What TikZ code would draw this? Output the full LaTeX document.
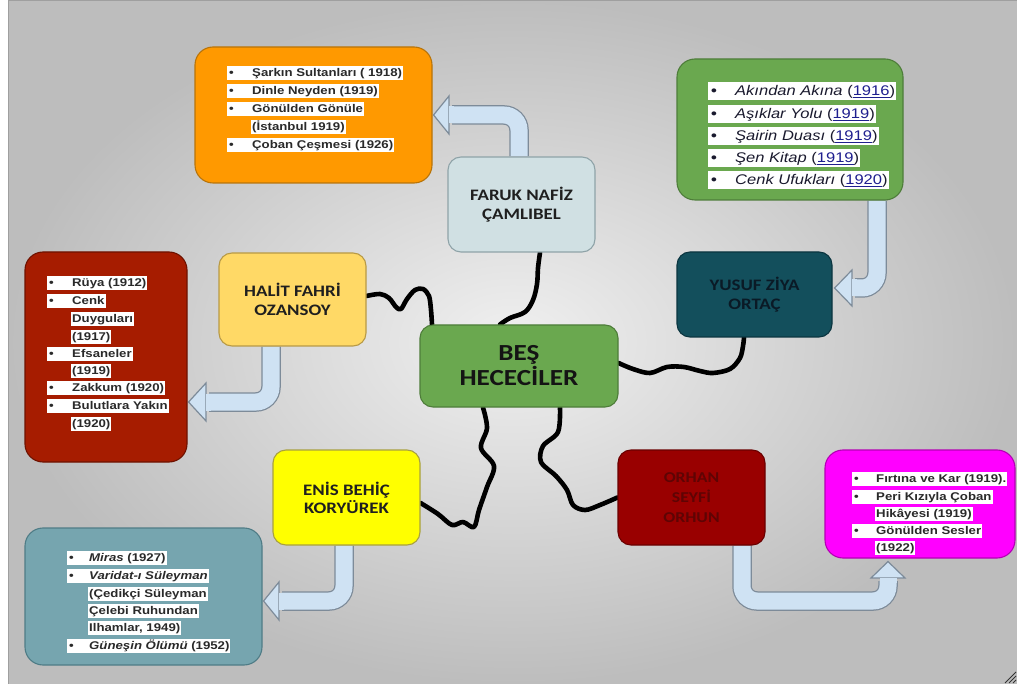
\documentclass[tikz,border=0pt]{standalone}
\usepackage{fontspec}
\setmainfont{Liberation Sans}
\newfontfamily\lstfont[FakeStretch=1.18]{Liberation Sans}
\newfontfamily\lblfont[FakeStretch=1.18]{Carlito}
\usetikzlibrary{calc}
\pgfdeclarelayer{back}
\pgfdeclarelayer{bg}
\pgfsetlayers{back,bg,main}
\definecolor{orangeF}{HTML}{FF9900}\definecolor{orangeD}{HTML}{B8740A}
\definecolor{greenF}{HTML}{6AA84F}\definecolor{greenD}{HTML}{4E7D3A}
\definecolor{redF}{HTML}{A61C00}\definecolor{redD}{HTML}{6E1200}
\definecolor{tealF}{HTML}{76A5AF}\definecolor{tealD}{HTML}{4F7C86}
\definecolor{magF}{HTML}{FF00FF}\definecolor{magD}{HTML}{B400B4}
\definecolor{farukF}{HTML}{D0E0E3}\definecolor{farukD}{HTML}{8FA3A8}
\definecolor{halitF}{HTML}{FFD966}\definecolor{halitD}{HTML}{B89A46}
\definecolor{yusufF}{HTML}{134F5C}\definecolor{yusufD}{HTML}{0B3540}\definecolor{yusufT}{HTML}{0A1A26}
\definecolor{enisF}{HTML}{FFFF00}\definecolor{enisD}{HTML}{A8A040}
\definecolor{orhanF}{HTML}{990000}\definecolor{orhanD}{HTML}{6A0000}\definecolor{orhanT}{HTML}{5E0404}
\definecolor{arrowF}{HTML}{CFE2F3}\definecolor{arrowD}{HTML}{7D8B99}
\definecolor{txtgray}{HTML}{2A2A2A}
\definecolor{greentxt}{HTML}{1A1A2E}
\definecolor{yearblue}{HTML}{1F1F8F}
\definecolor{bgin}{HTML}{F0F0F0}\definecolor{bgout}{HTML}{BDBDBD}
\newcommand\lbul[1]{\makebox[#1][l]{\hspace{1pt}\textbullet}}
\newcommand\gbul[1]{\makebox[#1][l]{\hspace{2pt}\upshape\bfseries\textbullet}}
\newcommand\yr[1]{\textcolor{yearblue}{\underline{#1}}}
\begin{document}
\begin{tikzpicture}[x=1pt,y=-1pt,
  box/.style={draw, rounded corners=18pt, line width=1.1pt, inner sep=0pt},
  lbox/.style={draw, rounded corners=13pt, line width=1.1pt, inner sep=0pt, align=center,
     font=\lblfont\bfseries\fontsize{16}{19}\selectfont},
  li/.style={anchor=west, fill=white, inner xsep=1pt, inner ysep=0.6pt,
     text height=10.5pt, text depth=3.2pt, text=txtgray,
     font=\lstfont\bfseries\fontsize{11.2}{13}\selectfont},
  gi/.style={anchor=west, fill=white, inner xsep=1pt, inner ysep=0.6pt,
     text height=13pt, text depth=4.2pt, text=greentxt,
     font=\lstfont\fontsize{14}{17}\selectfont},
  conn/.style={line width=4.6pt, line cap=round, line join=round, black},
  abord/.style={line width=19.5pt, draw=arrowD, rounded corners=15pt},
  afill/.style={line width=17pt, draw=arrowF, rounded corners=15pt},
  ahead/.style={fill=arrowF, draw=arrowD, line width=1.2pt, line join=miter}]
\useasboundingbox (0,0) rectangle (1017,684);
\begin{pgfonlayer}{back}
  \fill[white] (0,0) rectangle (1017,684);
  \shade[inner color=bgin, outer color=bgout] (8,0) rectangle (1017,684);
  \draw[gray!75, line width=1pt] (8.5,684) -- (8.5,0.5) -- (1017,0.5);
  \draw[gray!40!black, line width=0.8pt] (1005,683) -- (1016,672) (1009,683) -- (1016,676) (1013,683) -- (1016,680);
\end{pgfonlayer}

% list boxes
\node[box, fill=orangeF, draw=orangeD, minimum width=237pt, minimum height=136pt] (orange) at (313.5,115) {};
\node[box, fill=greenF, draw=greenD, minimum width=226pt, minimum height=141pt] (green) at (790,129.5) {};
\node[box, fill=redF, draw=redD, minimum width=162pt, minimum height=210pt] (red) at (106,357) {};
\node[box, fill=tealF, draw=tealD, minimum width=237pt, minimum height=137pt] (teal) at (143.5,596.5) {};
\node[box, fill=magF, draw=magD, minimum width=190pt, minimum height=108pt] (magenta) at (920,504) {};

% label boxes
\node[lbox, fill=farukF, draw=farukD, text=black!88, minimum width=147pt, minimum height=95pt] (faruk) at (521.5,204.5) {FARUK NAFİZ\\ÇAMLIBEL};
\node[lbox, fill=halitF, draw=halitD, text=black!88, minimum width=147pt, minimum height=93pt] (halit) at (292.5,299.5) {HALİT FAHRİ\\OZANSOY};
\node[lbox, fill=yusufF, draw=yusufD, text=yusufT, minimum width=155pt, minimum height=85pt] (yusuf) at (754.5,294.5) {YUSUF ZİYA\\ORTAÇ};
\node[lbox, fill=greenF, draw=greenD, text=black!92, minimum width=198pt, minimum height=82pt,
   font=\lblfont\bfseries\fontsize{23}{25}\selectfont] (bes) at (519,366) {BEŞ\\HECECİLER};
\node[lbox, fill=enisF, draw=enisD, text=black!88, minimum width=147pt, minimum height=95pt,
   font=\lblfont\bfseries\fontsize{16}{18}\selectfont] (enis) at (346.5,497.5) {ENİS BEHİÇ\\KORYÜREK};
\node[lbox, fill=orhanF, draw=orhanD, text=orhanT, minimum width=147pt, minimum height=95pt,
   font=\lblfont\bfseries\fontsize{15}{20}\selectfont] (orhan) at (691.5,497.5) {ORHAN\\SEYFİ\\ORHUN};

% orange list
\node[li] (o1) at (227,73) {\lbul{24pt}Şarkın Sultanları ( 1918)};
\node[li] (o2) at (227,91) {\lbul{24pt}Dinle Neyden (1919)};
\node[li] (o3) at (227,109) {\lbul{24pt}Gönülden Gönüle};
\node[li] (o4) at (251,127) {(İstanbul 1919)};
\node[li] (o5) at (227,145) {\lbul{24pt}Çoban Çeşmesi (1926)};

% green list
\node[gi] (g1) at (708,91) {\gbul{26pt}\textit{Akından Akına} (\yr{1916})};
\node[gi] (g2) at (708,114) {\gbul{26pt}\textit{Aşıklar Yolu} (\yr{1919})};
\node[gi] (g3) at (708,136) {\gbul{26pt}\textit{Şairin Duası} (\yr{1919})};
\node[gi] (g4) at (708,158) {\gbul{26pt}\textit{Şen Kitap} (\yr{1919})};
\node[gi] (g5) at (708,180) {\gbul{26pt}\textit{Cenk Ufukları} (\yr{1920})};

% red list
\node[li] (r1) at (47,283) {\lbul{24pt}Rüya (1912)};
\node[li] (r2) at (47,301) {\lbul{24pt}Cenk};
\node[li] (r3) at (71,319) {Duyguları};
\node[li] (r4) at (71,337) {(1917)};
\node[li] (r5) at (47,354) {\lbul{24pt}Efsaneler};
\node[li] (r6) at (71,371) {(1919)};
\node[li] (r7) at (47,388) {\lbul{24pt}Zakkum (1920)};
\node[li] (r8) at (47,406) {\lbul{24pt}Bulutlara Yakın};
\node[li] (r9) at (71,424) {(1920)};

% teal list
\node[li] (t1) at (67,558) {\lbul{21pt}\textit{Miras} (1927)};
\node[li] (t2) at (67,576) {\lbul{21pt}\textit{Varidat-ı Süleyman}};
\node[li] (t3) at (88,594) {(Çedikçi Süleyman};
\node[li] (t4) at (88,611) {Çelebi Ruhundan};
\node[li] (t5) at (88,628) {Ilhamlar, 1949)};
\node[li] (t6) at (67,646) {\lbul{21pt}\textit{Güneşin Ölümü} (1952)};

% magenta list
\node[li] (m1) at (852,479) {\lbul{23pt}Fırtına ve Kar (1919).};
\node[li] (m2) at (852,497) {\lbul{23pt}Peri Kızıyla Çoban};
\node[li] (m3) at (875,514) {Hikâyesi (1919)};
\node[li] (m4) at (852,531) {\lbul{23pt}Gönülden Sesler};
\node[li] (m5) at (875,548) {(1922)};

\begin{pgfonlayer}{bg}
% wavy connectors
\draw[conn] plot[smooth, tension=0.6] coordinates {([xshift=18.5pt]faruk.south) (538,268) (537,284) (533,300) (525,312) (510,318) ([xshift=-19pt]bes.north)};
\draw[conn] plot[smooth, tension=0.55] coordinates {([yshift=3.5pt]halit.east) (380,294) (389,298) (396,307) (401,309) (407,299) (415,290) (423,289) (429,296) (431,310) ([xshift=-87pt]bes.north)};
\draw[conn] plot[smooth, tension=0.55] coordinates {([yshift=3pt]bes.east) (633,369) (650,373) (667,367) (684,367) (700,371) (713,373) (730,369) (740,358) (743,346) ([xshift=-10.5pt]yusuf.south)};
\draw[conn] plot[smooth, tension=0.55] coordinates {([xshift=-36pt]bes.south) (487,428) (481,448) (494,466) (487,487) (479,510) (474,527) (463,522) (452,525) (438,514) ([yshift=-5.5pt]enis.east)};
\draw[conn] plot[smooth, tension=0.55] coordinates {([xshift=41pt]bes.south) (558,432) (543,446) (541,462) (556,476) (567,490) (573,505) (585,510) (600,505) (orhan.west)};

% block arrows
% Faruk -> orange
\draw[abord] ([xshift=-2.5pt]faruk.north) -- (519,115) -- (452,115);
\draw[afill] ([xshift=-2.5pt]faruk.north) -- (519,115) -- (452,115);
\filldraw[ahead] ([xshift=1pt]orange.east) -- (449,96) -- (449,134) -- cycle;
\draw[afill] (454,115) -- (448.5,115);
% green -> Yusuf
\draw[abord] ([xshift=87pt]green.south) -- (877,288) -- (855,288);
\draw[afill] ([xshift=87pt]green.south) -- (877,288) -- (855,288);
\filldraw[ahead] ([xshift=2pt,yshift=6.5pt]yusuf.east) -- (852,270) -- (852,306) -- cycle;
\draw[afill] (857,288) -- (851.5,288);
% Halit -> red
\draw[abord] ([xshift=-21.5pt]halit.south) -- (271,402) -- (209,402);
\draw[afill] ([xshift=-21.5pt]halit.south) -- (271,402) -- (209,402);
\filldraw[ahead] ([xshift=1pt,yshift=-45pt]red.east) -- (206,383) -- (206,421) -- cycle;
\draw[afill] (211,402) -- (205.5,402);
% Enis -> teal
\draw[abord] ([xshift=-2.5pt]enis.south) -- (344,601) -- (282,601);
\draw[afill] ([xshift=-2.5pt]enis.south) -- (344,601) -- (282,601);
\filldraw[ahead] ([xshift=1pt,yshift=-4.5pt]teal.east) -- (279,582) -- (279,620) -- cycle;
\draw[afill] (284,601) -- (278.5,601);
% Orhan -> magenta
\draw[abord] ([xshift=50.5pt]orhan.south) -- (742,601) -- (888,601) -- (888,581);
\draw[afill] ([xshift=50.5pt]orhan.south) -- (742,601) -- (888,601) -- (888,581);
\filldraw[ahead] ([xshift=-32pt,yshift=-3pt]magenta.south) -- (871,578) -- (905,578) -- cycle;
\draw[afill] (888,583) -- (888,577.5);
\end{pgfonlayer}
\end{tikzpicture}
\end{document}
